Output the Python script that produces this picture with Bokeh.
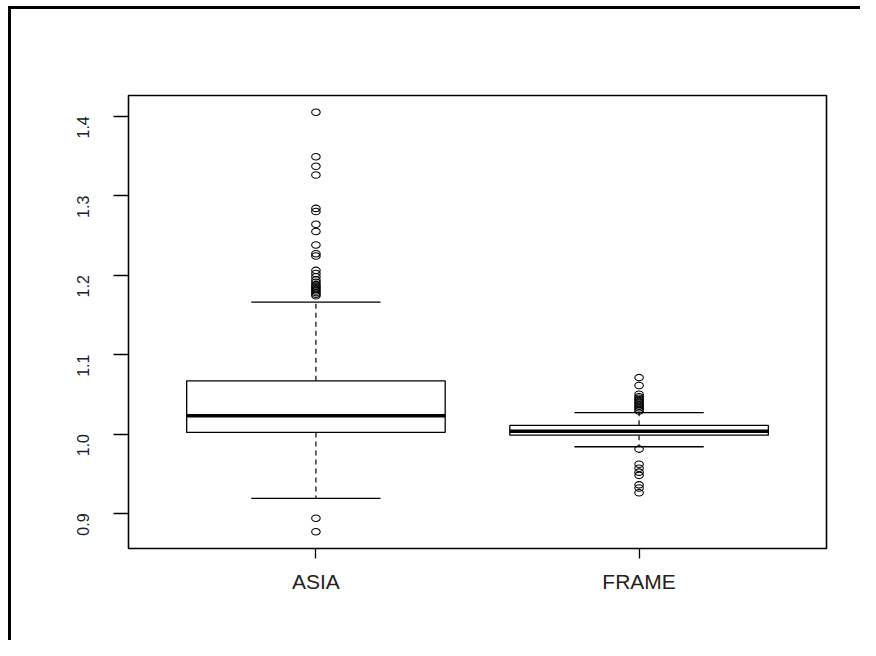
from bokeh.plotting import figure
from bokeh.models import FixedTicker, NumeralTickFormatter, Range1d, ColumnDataSource
from bokeh.embed import file_html
from bokeh.resources import INLINE
import math

# ---- data ----
categories = ["ASIA", "FRAME"]
q1 = [1.002, 0.9985]
median = [1.023, 1.0035]
q3 = [1.067, 1.011]
whisker_low = [0.919, 0.984]
whisker_high = [1.166, 1.027]

asia_outliers = [1.405, 1.349, 1.337, 1.326, 1.284, 1.280, 1.264, 1.255, 1.238,
                 1.227, 1.224, 1.206, 1.202, 1.198, 1.194, 1.191, 1.188, 1.186,
                 1.184, 1.182, 1.180, 1.178, 1.176, 1.174, 0.894, 0.877]
frame_outliers = [1.071, 1.061, 1.050, 1.047, 1.045, 1.043, 1.041, 1.039, 1.037,
                  1.035, 1.033, 1.031, 1.029, 0.981, 0.962, 0.957, 0.952, 0.948,
                  0.936, 0.932, 0.926]

y_ticks = [0.9, 1.0, 1.1, 1.2, 1.3, 1.4]

# ---- figure ----
W, H = 860, 640
p = figure(width=W, height=H, output_backend="svg", toolbar_location=None,
           x_range=Range1d(0.42, 2.58), y_range=Range1d(0.8559, 1.4261),
           min_border_left=128, min_border_right=34, min_border_top=95,
           min_border_bottom=92)
p.xgrid.visible = False
p.ygrid.visible = False
p.outline_line_color = "black"
p.outline_line_width = 1.6
p.background_fill_color = "white"
p.border_fill_color = None
# outer frame of the picture (left and top edges) drawn behind the transparent canvas
p.styles = {
    "background": "linear-gradient(#000,#000) 8px 6px / 3px 1000px no-repeat, "
                  "linear-gradient(#000,#000) 8px 6px / 1000px 3px no-repeat, #fff"
}

xs = [i + 1 for i in range(len(categories))]
half_box = 0.4
half_cap = 0.2

src = ColumnDataSource(dict(
    x=xs, left=[x - half_box for x in xs], right=[x + half_box for x in xs],
    cap_l=[x - half_cap for x in xs], cap_r=[x + half_cap for x in xs],
    q1=q1, q3=q3, med=median, lo=whisker_low, hi=whisker_high))

# whiskers (dashed)
p.segment(x0="x", y0="q3", x1="x", y1="hi", source=src, line_color="black",
          line_width=1.2, line_dash="5 4")
p.segment(x0="x", y0="q1", x1="x", y1="lo", source=src, line_color="black",
          line_width=1.2, line_dash="5 4")
# caps
p.segment(x0="cap_l", y0="hi", x1="cap_r", y1="hi", source=src, line_color="black", line_width=1.3)
p.segment(x0="cap_l", y0="lo", x1="cap_r", y1="lo", source=src, line_color="black", line_width=1.3)
# boxes
p.quad(left="left", right="right", bottom="q1", top="q3", source=src,
       fill_color="white", line_color="black", line_width=1.3)
# medians
p.segment(x0="left", y0="med", x1="right", y1="med", source=src,
          line_color="black", line_width=3.5)

# outliers
ox = [1] * len(asia_outliers) + [2] * len(frame_outliers)
oy = asia_outliers + frame_outliers
p.ellipse(x=ox, y=oy, width=8.5, height=6.5, width_units="screen", height_units="screen",
          fill_color=None, line_color="black", line_width=1.1)

# axes
p.xaxis.ticker = FixedTicker(ticks=xs)
p.xaxis.major_label_overrides = {x: c for x, c in zip(xs, categories)}
p.yaxis.ticker = FixedTicker(ticks=y_ticks)
p.yaxis.formatter = NumeralTickFormatter(format="0.0")
for ax in (p.xaxis, p.yaxis):
    ax.axis_line_color = None
    ax.major_tick_in = 0
    ax.minor_tick_line_color = None
    ax.major_tick_line_color = "black"
    ax.major_tick_line_width = 1.3
    ax.major_label_text_font = "Liberation Sans"
    ax.major_label_text_color = "#222222"
p.xaxis.major_tick_out = 10
p.xaxis.major_label_text_font_size = "21px"
p.xaxis.major_label_standoff = 11
p.yaxis.major_tick_out = 15
p.yaxis.major_label_text_font_size = "16px"
p.yaxis.major_label_orientation = math.pi / 2
p.yaxis.major_label_standoff = 30

open("out.html", "w").write(file_html(p, INLINE))
